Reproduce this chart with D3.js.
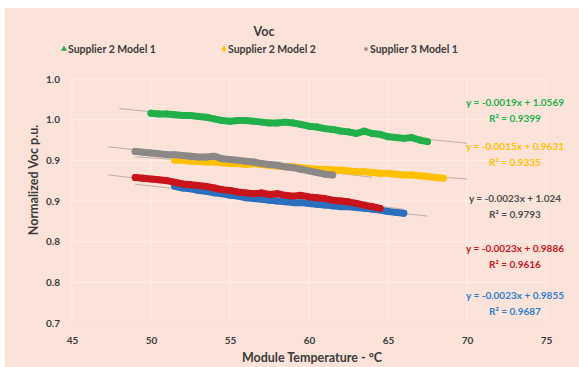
<!DOCTYPE html>
<html><head><meta charset="utf-8">
<script src="https://cdn.jsdelivr.net/npm/d3@7"></script>
<style>
html,body{margin:0;padding:0;background:#fff;}
svg{display:block;font-family:Lato,"Open Sans",sans-serif;font-weight:bold;}
</style></head>
<body><svg id="c" width="579" height="367"></svg>
<script>
// ---- data ----
const seriesNames = ["Supplier 2 Model 1","Supplier 2 Model 2","Supplier 3 Model 1","Supplier 3 Model 2","Supplier 1 Model 1"];
const xTicks = [45,50,55,60,65,70,75];
const xTickLabels = ["45","50","55","60","65","70","75"];
const yTicks = [0.75,0.80,0.85,0.90,0.95,1.00,1.05];
const yTickLabels = ["0.7","0.8","0.8","0.9","0.9","1.0","1.0"];

const greenT = [50,50.5,51,51.5,52,52.5,53,53.5,54,54.5,55,55.5,56,56.5,57,57.5,58,58.5,59,59.5,60,60.5,61,61.5,62,62.5,63,63.5,64,64.5,65,65.5,66,66.5,67,67.5];
const greenV = [1.008,1.007,1.007,1.006,1.005,1.005,1.004,1.003,1.001,0.999,0.998,0.999,0.999,0.998,0.997,0.996,0.996,0.997,0.996,0.994,0.992,0.991,0.989,0.988,0.986,0.985,0.983,0.986,0.983,0.982,0.979,0.978,0.977,0.978,0.975,0.973];

const yellowT = [51.5,52,52.5,53,53.5,54,54.5,55,55.5,56,56.5,57,57.5,58,58.5,59,59.5,60,60.5,61,61.5,62,62.5,63,63.5,64,64.5,65,65.5,66,66.5,67,67.5,68,68.5];
const yellowV = [0.950,0.950,0.949,0.949,0.948,0.948,0.947,0.946,0.946,0.945,0.946,0.945,0.944,0.943,0.942,0.942,0.941,0.940,0.939,0.939,0.938,0.938,0.937,0.936,0.936,0.935,0.934,0.934,0.933,0.932,0.932,0.931,0.930,0.929,0.928];

const greyT = [49,49.5,50,50.5,51,51.5,52,52.5,53,53.5,54,54.5,55,55.5,56,56.5,57,57.5,58,58.5,59,59.5,60,60.5,61,61.5];
const greyV = [0.961,0.960,0.959,0.958,0.957,0.957,0.956,0.955,0.954,0.954,0.955,0.952,0.951,0.950,0.949,0.948,0.946,0.945,0.944,0.942,0.941,0.939,0.937,0.935,0.933,0.932];

const redT = [49,49.5,50,50.5,51,51.5,52,52.5,53,53.5,54,54.5,55,55.5,56,56.5,57,57.5,58,58.5,59,59.5,60,60.5,61,61.5,62,62.5,63,63.5,64,64.5];
const redV = [0.929,0.928,0.927,0.926,0.925,0.923,0.921,0.920,0.919,0.918,0.916,0.914,0.913,0.911,0.910,0.909,0.910,0.908,0.909,0.907,0.906,0.907,0.905,0.904,0.903,0.901,0.900,0.899,0.897,0.895,0.893,0.891];

const blueT = [51.5,52,52.5,53,53.5,54,54.5,55,55.5,56,56.5,57,57.5,58,58.5,59,59.5,60,60.5,61,61.5,62,62.5,63,63.5,64,64.5,65,65.5,66];
const blueV = [0.918,0.916,0.915,0.913,0.912,0.910,0.909,0.907,0.906,0.904,0.903,0.902,0.901,0.900,0.899,0.898,0.898,0.897,0.896,0.895,0.894,0.893,0.893,0.892,0.891,0.890,0.889,0.887,0.886,0.885];

// trendline forecast ranges (°C)
const greenTrend = [48,70];
const yellowTrend = [49,70];
const greyTrend = [47.3,64];
const redTrend = [47.3,66];
const blueTrend = [49,67.5];

const eqTexts = ["y = -0.0019x + 1.0569","y = -0.0015x + 0.9631","y = -0.0023x + 1.024","y = -0.0023x + 0.9886","y = -0.0023x + 0.9855"];
const r2Texts = ["R² = 0.9399","R² = 0.9335","R² = 0.9793","R² = 0.9616","R² = 0.9687"];

// ---- drawing ----
const colors = ["#22b04b","#ffc000","#8c8888","#c8141a","#2b6fbf"];
const series = [
  {T:greenT,V:greenV,trend:greenTrend,c:colors[0]},
  {T:yellowT,V:yellowV,trend:yellowTrend,c:colors[1]},
  {T:greyT,V:greyV,trend:greyTrend,c:colors[2]},
  {T:redT,V:redV,trend:redTrend,c:colors[3]},
  {T:blueT,V:blueV,trend:blueTrend,c:colors[4]}
];

const svg = d3.select("#c");
svg.append("rect").attr("x",5).attr("y",8).attr("width",574).attr("height",359).attr("fill","#fbe3d9");

const x = d3.scaleLinear().domain([45,75]).range([72,546]);
const y = d3.scaleLinear().domain([0.75,1.05]).range([323,79]);

// gridlines
svg.append("g").selectAll("line").data(yTicks.slice(1)).join("line")
  .attr("x1",x(45)).attr("x2",x(75)).attr("y1",d=>y(d)).attr("y2",d=>y(d))
  .attr("stroke","#fdeee8").attr("stroke-width",1);
svg.append("g").selectAll("line").data(xTicks).join("line")
  .attr("x1",d=>x(d)).attr("x2",d=>x(d)).attr("y1",y(1.05)).attr("y2",y(0.75))
  .attr("stroke","#fdeee8").attr("stroke-width",1);
svg.append("line").attr("x1",x(45)).attr("x2",x(75)).attr("y1",y(0.75)).attr("y2",y(0.75))
  .attr("stroke","#f4e2da").attr("stroke-width",1.5);

// axes via d3
const xAxis = d3.axisBottom(x).tickValues(xTicks).tickFormat((d,i)=>xTickLabels[i]).tickSize(0).tickPadding(14);
const gx = svg.append("g").attr("transform",`translate(0,${y(0.75)})`).call(xAxis);
gx.select(".domain").remove();
gx.selectAll("text").attr("fill","#3b3b3b").style("font-size","10px").style("font-weight","bold").style("font-family","Lato");

const yAxis = d3.axisLeft(y).tickValues(yTicks).tickFormat((d,i)=>yTickLabels[i]).tickSize(0).tickPadding(12);
const gy = svg.append("g").attr("transform",`translate(${x(45)},0)`).call(yAxis);
gy.select(".domain").remove();
gy.selectAll("text").attr("fill","#3b3b3b").style("font-size","10px").style("font-weight","bold").style("font-family","Lato");

function fit(T,V){
  const n=T.length, mx=d3.mean(T), my=d3.mean(V);
  let sxy=0,sxx=0;
  for(let i=0;i<n;i++){sxy+=(T[i]-mx)*(V[i]-my);sxx+=(T[i]-mx)**2;}
  const b=sxy/sxx; return {b,a:my-b*mx};
}

series.forEach(s=>{
  const f=fit(s.T,s.V);
  svg.append("line")
    .attr("x1",x(s.trend[0])).attr("y1",y(f.a+f.b*s.trend[0]))
    .attr("x2",x(s.trend[1])).attr("y2",y(f.a+f.b*s.trend[1]))
    .attr("stroke","#b3aaa6").attr("stroke-width",1).attr("opacity",0.9);
});

const drawOrder = [0,1,4,2,3];
drawOrder.forEach(k=>{
  const s=series[k];
  const pts=s.T.map((t,i)=>[t,s.V[i]]);
  svg.append("path").attr("d",d3.line().x(d=>x(d[0])).y(d=>y(d[1]))(pts))
    .attr("fill","none").attr("stroke",s.c).attr("stroke-width",7).attr("stroke-linejoin","round").attr("stroke-linecap","round");
  svg.append("g").selectAll("circle").data(pts).join("circle")
    .attr("cx",d=>x(d[0])).attr("cy",d=>y(d[1])).attr("r",3.4).attr("fill",s.c);
});

svg.append("text").attr("x",264).attr("y",36).attr("text-anchor","middle")
  .attr("fill","#3b3b3b").style("font-size","12.5px").text("Voc");

const legX=[68,228,370];
[0,1,2].forEach(i=>{
  const g=svg.append("g");
  const sym = i===0?d3.symbolTriangle:(i===1?d3.symbolDiamond:d3.symbolSquare);
  g.append("path").attr("d",d3.symbol().type(sym).size(i===2?10:16)())
    .attr("transform",`translate(${legX[i]-4},${49})`).attr("fill",colors[i]);
  g.append("text").attr("x",legX[i]).attr("y",53).attr("fill","#3b3b3b")
    .style("font-size","10.5px").text(seriesNames[i]);
});

svg.append("text").attr("x",312).attr("y",362).attr("text-anchor","middle")
  .attr("fill","#3b3b3b").style("font-size","12.5px").text("Module Temperature - °C");
svg.append("text").attr("transform","translate(38,180) rotate(-90)").attr("text-anchor","middle")
  .attr("fill","#3b3b3b").style("font-size","12.5px").text("Normalized Voc p.u.");

const eqY=[106,150,202,252,299];
const eqColors=["#22b04b","#ffc000","#505050","#c8141a","#2b7fd0"];
eqTexts.forEach((t,i)=>{
  svg.append("text").attr("x",515).attr("y",eqY[i]).attr("text-anchor","middle")
    .attr("fill",eqColors[i]).style("font-size","10px").text(t);
  svg.append("text").attr("x",515).attr("y",eqY[i]+16).attr("text-anchor","middle")
    .attr("fill",eqColors[i]).style("font-size","10px").text(r2Texts[i]);
});
</script>
</body></html>
